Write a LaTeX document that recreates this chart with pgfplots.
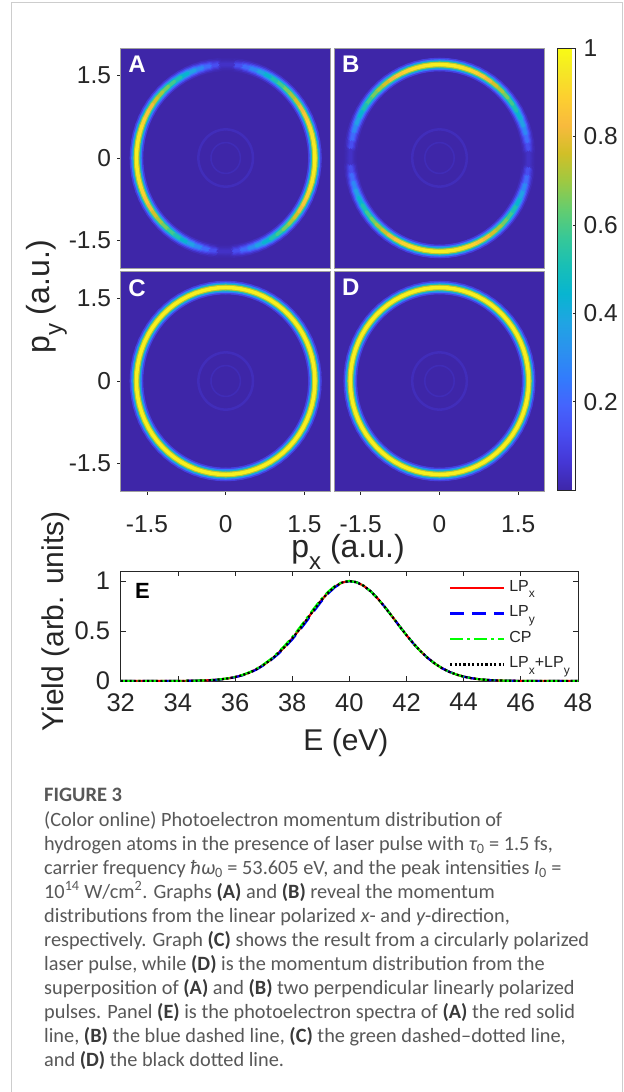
\documentclass[border=0pt]{standalone}
\usepackage{pgfplots}
\pgfplotsset{compat=1.18}
\usepackage{pgfplotstable}
\usepackage{fontspec}
\setmainfont{Liberation Sans}
\newfontfamily\capfont{Carlito}

\definecolor{pbg}{rgb}{0.2422,0.1504,0.6603}
\definecolor{tickgray}{rgb}{0.15,0.15,0.15}
\definecolor{capgray}{RGB}{88,88,88}
\definecolor{capdark}{RGB}{58,58,58}
\definecolor{bordergray}{RGB}{205,205,205}
\definecolor{framegray}{RGB}{160,160,160}

\newcommand{\sub}[1]{\raisebox{-0.4em}{\scalebox{0.75}{#1}}}

\pgfplotsset{
  colormap={parula}{
    rgb(0cm)=(0.2422,0.1504,0.6603)
    rgb(4cm)=(0.2706,0.2147,0.8364)
    rgb(8cm)=(0.2813,0.3006,0.9414)
    rgb(12cm)=(0.2699,0.3892,0.9906)
    rgb(16cm)=(0.1963,0.4847,0.9892)
    rgb(20cm)=(0.1687,0.5703,0.9359)
    rgb(24cm)=(0.1248,0.6459,0.8883)
    rgb(28cm)=(0.0297,0.7082,0.8163)
    rgb(32cm)=(0.0964,0.7500,0.7120)
    rgb(36cm)=(0.2161,0.7843,0.5923)
    rgb(40cm)=(0.3909,0.8029,0.4354)
    rgb(44cm)=(0.6174,0.7876,0.2612)
    rgb(48cm)=(0.8203,0.7498,0.1535)
    rgb(52cm)=(0.9728,0.7298,0.2394)
    rgb(56cm)=(0.9892,0.8136,0.1885)
    rgb(60cm)=(0.9597,0.9135,0.1423)
    rgb(63cm)=(0.9769,0.9839,0.0805)
  },
}

% ring: angle (deg), radius of main ring (a.u.), radii of faint inner rings,
% relative angular intensity for LP_x (A), LP_y (B), CP and LP_x+LP_y (C, D)
\pgfplotstableread{
a   r    ri   rj   IA    IB    IC
0   1.70 0.52 0.28 1.000 0.000 1
5   1.70 0.52 0.28 0.996 0.087 1
10  1.70 0.52 0.28 0.985 0.174 1
15  1.70 0.52 0.28 0.966 0.259 1
20  1.70 0.52 0.28 0.940 0.342 1
25  1.70 0.52 0.28 0.906 0.423 1
30  1.70 0.52 0.28 0.866 0.500 1
35  1.70 0.52 0.28 0.819 0.574 1
40  1.70 0.52 0.28 0.766 0.643 1
45  1.70 0.52 0.28 0.707 0.707 1
50  1.70 0.52 0.28 0.643 0.766 1
55  1.70 0.52 0.28 0.574 0.819 1
60  1.70 0.52 0.28 0.500 0.866 1
65  1.70 0.52 0.28 0.423 0.906 1
70  1.70 0.52 0.28 0.342 0.940 1
75  1.70 0.52 0.28 0.259 0.966 1
80  1.70 0.52 0.28 0.174 0.985 1
85  1.70 0.52 0.28 0.087 0.996 1
90  1.70 0.52 0.28 0.000 1.000 1
95  1.70 0.52 0.28 0.087 0.996 1
100 1.70 0.52 0.28 0.174 0.985 1
105 1.70 0.52 0.28 0.259 0.966 1
110 1.70 0.52 0.28 0.342 0.940 1
115 1.70 0.52 0.28 0.423 0.906 1
120 1.70 0.52 0.28 0.500 0.866 1
125 1.70 0.52 0.28 0.574 0.819 1
130 1.70 0.52 0.28 0.643 0.766 1
135 1.70 0.52 0.28 0.707 0.707 1
140 1.70 0.52 0.28 0.766 0.643 1
145 1.70 0.52 0.28 0.819 0.574 1
150 1.70 0.52 0.28 0.866 0.500 1
155 1.70 0.52 0.28 0.906 0.423 1
160 1.70 0.52 0.28 0.940 0.342 1
165 1.70 0.52 0.28 0.966 0.259 1
170 1.70 0.52 0.28 0.985 0.174 1
175 1.70 0.52 0.28 0.996 0.087 1
180 1.70 0.52 0.28 1.000 0.000 1
185 1.70 0.52 0.28 0.996 0.087 1
190 1.70 0.52 0.28 0.985 0.174 1
195 1.70 0.52 0.28 0.966 0.259 1
200 1.70 0.52 0.28 0.940 0.342 1
205 1.70 0.52 0.28 0.906 0.423 1
210 1.70 0.52 0.28 0.866 0.500 1
215 1.70 0.52 0.28 0.819 0.574 1
220 1.70 0.52 0.28 0.766 0.643 1
225 1.70 0.52 0.28 0.707 0.707 1
230 1.70 0.52 0.28 0.643 0.766 1
235 1.70 0.52 0.28 0.574 0.819 1
240 1.70 0.52 0.28 0.500 0.866 1
245 1.70 0.52 0.28 0.423 0.906 1
250 1.70 0.52 0.28 0.342 0.940 1
255 1.70 0.52 0.28 0.259 0.966 1
260 1.70 0.52 0.28 0.174 0.985 1
265 1.70 0.52 0.28 0.087 0.996 1
270 1.70 0.52 0.28 0.000 1.000 1
275 1.70 0.52 0.28 0.087 0.996 1
280 1.70 0.52 0.28 0.174 0.985 1
285 1.70 0.52 0.28 0.259 0.966 1
290 1.70 0.52 0.28 0.342 0.940 1
295 1.70 0.52 0.28 0.423 0.906 1
300 1.70 0.52 0.28 0.500 0.866 1
305 1.70 0.52 0.28 0.574 0.819 1
310 1.70 0.52 0.28 0.643 0.766 1
315 1.70 0.52 0.28 0.707 0.707 1
320 1.70 0.52 0.28 0.766 0.643 1
325 1.70 0.52 0.28 0.819 0.574 1
330 1.70 0.52 0.28 0.866 0.500 1
335 1.70 0.52 0.28 0.906 0.423 1
340 1.70 0.52 0.28 0.940 0.342 1
345 1.70 0.52 0.28 0.966 0.259 1
350 1.70 0.52 0.28 0.985 0.174 1
355 1.70 0.52 0.28 0.996 0.087 1
360 1.70 0.52 0.28 1.000 0.000 1
}\ringdata

% photoelectron spectra
\pgfplotstableread{
E     LPx    LPy    CP     LPxy
32    0      0      0      0
33    0      0      0      0
34    0.0007 0.0007 0.0008 0.0007
34.5  0.0022 0.0021 0.0024 0.0022
35    0.0063 0.0060 0.0068 0.0063
35.25 0.0103 0.0099 0.0110 0.0103
35.5  0.0165 0.0158 0.0176 0.0165
35.75 0.0256 0.0246 0.0272 0.0256
36    0.0389 0.0380 0.0405 0.0389
36.25 0.0577 0.0560 0.0600 0.0577
36.5  0.0833 0.0810 0.0865 0.0833
36.75 0.1174 0.1145 0.1215 0.1174
37    0.1611 0.1575 0.1665 0.1611
37.25 0.2120 0.2070 0.2190 0.2120
37.5  0.2740 0.2670 0.2830 0.2740
37.75 0.3460 0.3380 0.3570 0.3460
38    0.4250 0.4150 0.4380 0.4250
38.25 0.5150 0.5020 0.5290 0.5150
38.5  0.6100 0.5960 0.6240 0.6100
38.75 0.7080 0.6940 0.7210 0.7080
39    0.8010 0.7880 0.8130 0.8010
39.25 0.8820 0.8720 0.8910 0.8820
39.5  0.9450 0.9390 0.9510 0.9450
39.75 0.9850 0.9820 0.9880 0.9850
40    1.0000 0.9980 1.0000 1.0000
40.25 0.9879 0.9879 0.9879 0.9879
40.5  0.9523 0.9523 0.9523 0.9523
40.75 0.8959 0.8959 0.8959 0.8959
41    0.8226 0.8226 0.8226 0.8226
41.25 0.7370 0.7370 0.7370 0.7370
41.5  0.6444 0.6444 0.6444 0.6444
41.75 0.5499 0.5499 0.5499 0.5499
42    0.4578 0.4578 0.4578 0.4578
42.25 0.3720 0.3720 0.3720 0.3720
42.5  0.2950 0.2950 0.2950 0.2950
42.75 0.2283 0.2283 0.2283 0.2283
43    0.1724 0.1724 0.1724 0.1724
43.25 0.1271 0.1271 0.1271 0.1271
43.5  0.0914 0.0914 0.0914 0.0914
43.75 0.0641 0.0641 0.0641 0.0641
44    0.0439 0.0439 0.0439 0.0439
44.25 0.0294 0.0294 0.0294 0.0294
44.5  0.0192 0.0192 0.0192 0.0192
44.75 0.0122 0.0122 0.0122 0.0122
45    0.0076 0.0076 0.0076 0.0076
45.5  0.0027 0.0027 0.0027 0.0027
46    0.0009 0.0009 0.0009 0.0009
47    0      0      0      0
48    0      0      0      0
}\specdata

\newcommand{\ringlayers}[1]{%
  \addplot[mesh, data cs=polar, line width=2.5bp, line cap=round, point meta={0.025}] table[x=a, y=ri] {\ringdata};
  \addplot[mesh, data cs=polar, line width=1.5bp, line cap=round, point meta={0.02}] table[x=a, y=rj] {\ringdata};
  \addplot[mesh, data cs=polar, line width=13.5bp, line cap=round, point meta={0.09*\thisrow{#1}}] table[x=a, y=r] {\ringdata};
  \addplot[mesh, data cs=polar, line width=10.5bp, line cap=round, point meta={0.26*\thisrow{#1}}] table[x=a, y=r] {\ringdata};
  \addplot[mesh, data cs=polar, line width=7.8bp, line cap=round, point meta={0.50*\thisrow{#1}}] table[x=a, y=r] {\ringdata};
  \addplot[mesh, data cs=polar, line width=5.6bp, line cap=round, point meta={0.74*\thisrow{#1}}] table[x=a, y=r] {\ringdata};
  \addplot[mesh, data cs=polar, line width=3.4bp, line cap=round, point meta={0.97*\thisrow{#1}}] table[x=a, y=r] {\ringdata};
}

\tikzset{plabel/.style={anchor=north west, inner sep=0pt, text=white, font=\bfseries\fontsize{24bp}{24bp}\selectfont}}

\pgfplotsset{
  panel/.style={
    scale only axis, width=210bp, height=220bp, anchor=north west,
    xmin=-2, xmax=2, ymin=-2, ymax=2,
    axis background/.style={fill=pbg},
    colormap name=parula, point meta min=0, point meta max=1,
    axis line style={framegray, line width=0.5bp},
    tick align=outside, major tick length=3.5bp,
    tick style={tickgray, line width=0.6bp},
    xtick pos=left, ytick pos=left,
    xtick={-1.5,0,1.5}, ytick={-1.5,0,1.5},
    xticklabels={-1.5,0,1.5}, yticklabels={-1.5,0,1.5},
    ticklabel style={font=\fontsize{24.5bp}{24.5bp}\selectfont, text=tickgray, inner sep=0pt},
    xticklabel style={yshift=-20.5bp},
    yticklabel style={xshift=-6bp},
  },
}

\begin{document}
\begin{tikzpicture}
\path[use as bounding box] (0,0) rectangle (624bp,-1092bp);
\fill[white] (0,0) rectangle (624bp,-1092bp);
\draw[bordergray, line width=1bp] (11bp,-1092bp) -- (11bp,-2bp) -- (622bp,-2bp) -- (622bp,-1092bp);

% (A)
\begin{axis}[panel, at={(120.7bp,-48bp)}, xtick=\empty]
  \ringlayers{IA}
  \node[plabel] at (rel axis cs:0.035,0.963) {A};
\end{axis}
% (B) with colorbar
\begin{axis}[panel, at={(334.5bp,-48bp)}, xtick=\empty, ytick=\empty,
  colorbar,
  colorbar style={
    at={(parent axis.north east)}, anchor=north west, xshift=4.5bp,
    scale only axis, width=18bp, height=442bp,
    ytick={0.2,0.4,0.6,0.8,1}, yticklabels={0.2,0.4,0.6,0.8,1},
    yticklabel pos=right, ytick pos=right, tick align=inside, major tick length=3bp,
    tick style={tickgray, line width=0.6bp},
    axis line style={tickgray, line width=0.7bp},
    yticklabel style={font=\fontsize{24.5bp}{24.5bp}\selectfont, text=tickgray, inner sep=0pt, xshift=8bp},
  }]
  \ringlayers{IB}
  \node[plabel] at (rel axis cs:0.035,0.963) {B};
\end{axis}
% (C)
\begin{axis}[panel, at={(120.7bp,-271bp)}]
  \ringlayers{IC}
  \node[plabel] at (rel axis cs:0.035,0.963) {C};
\end{axis}
% (D)
\begin{axis}[panel, at={(334.5bp,-271bp)}, ytick=\empty]
  \ringlayers{IC}
  \node[plabel] at (rel axis cs:0.035,0.963) {D};
\end{axis}

\node[anchor=base, inner sep=0pt, text=tickgray, font=\fontsize{32bp}{32bp}\selectfont] at (348bp,-557bp) {p\sub{x} (a.u.)};
\node[anchor=base, rotate=90, inner sep=0pt, text=tickgray, font=\fontsize{32bp}{32bp}\selectfont] at (49bp,-297bp) {p\sub{y} (a.u.)};

% (E)
\begin{axis}[at={(120.7bp,-571bp)}, anchor=north west, scale only axis,
  width=457.3bp, height=110bp,
  xmin=32, xmax=48, ymin=0, ymax=1.1,
  xtick={32,34,36,38,40,42,44,46,48}, xticklabels={32,34,36,38,40,42,44,46,48},
  ytick={0,0.5,1}, yticklabels={0,0.5,1},
  tick align=inside, major tick length=5bp, xtick pos=both, ytick pos=both,
  xticklabel pos=lower, yticklabel pos=left,
  axis line style={tickgray, line width=0.7bp}, tick style={tickgray, line width=0.7bp},
  ticklabel style={font=\fontsize{25.5bp}{25.5bp}\selectfont, text=tickgray, inner sep=0pt},
  xticklabel style={yshift=-12bp},
  yticklabel style={xshift=-10.5bp},
  legend style={draw=none, fill=none, at={(0.9825,0.925)}, anchor=north east,
    font=\fontsize{16bp}{16bp}\selectfont, text=tickgray, row sep=8.5bp, inner sep=0pt,
    nodes={text height=12bp, text depth=5bp, inner sep=0pt},
    /tikz/every odd column/.append style={column sep=4bp}},
  legend cell align=left,
  legend image code/.code={\draw[#1, line width=2.4bp] (0bp,0bp) -- (54bp,0bp);},
]
  \addplot[red, line width=2.2bp] table[x=E, y=LPx] {\specdata};
  \addplot[blue, line width=2.2bp, dash pattern=on 14bp off 8bp] table[x=E, y=LPy] {\specdata};
  \addplot[green, line width=2.2bp, dash pattern=on 13bp off 4bp on 3bp off 4bp] table[x=E, y=CP] {\specdata};
  \addplot[black, line width=2.2bp, dash pattern=on 2.2bp off 2.2bp] table[x=E, y=LPxy] {\specdata};
  \legend{LP\sub{x}, LP\sub{y}, CP, LP\sub{x}+LP\sub{y}}
  \node[anchor=north west, inner sep=0pt, font=\bfseries\fontsize{22bp}{22bp}\selectfont] at (rel axis cs:0.031,0.891) {E};
\end{axis}

\node[anchor=base, inner sep=0pt, text=tickgray, font=\fontsize{30bp}{30bp}\selectfont] at (346bp,-750bp) {E (eV)};
\node[anchor=base, rotate=90, inner sep=0pt, text=tickgray, font=\fontsize{30bp}{30bp}\selectfont] at (63bp,-621.5bp) {Yield (arb. units)};

% caption
\node[anchor=base west, inner sep=0pt, text=capgray, font=\capfont\bfseries\fontsize{20.5bp}{24bp}\selectfont] at (44bp,-801bp) {FIGURE 3};
\node[anchor=north west, inner sep=0pt, align=left, text=capgray, font=\capfont\fontsize{20.3bp}{24bp}\selectfont] at (44bp,-811bp) {%
(Color online) Photoelectron momentum distribution of\\
hydrogen atoms in the presence of laser pulse with {\itshape τ}\textsubscript{0} = 1.5 fs,\\
carrier frequency {\itshape ħω}\textsubscript{0} = 53.605 eV, and the peak intensities {\itshape I}\textsubscript{0} =\\
10\textsuperscript{14} W/cm\textsuperscript{2}. Graphs \textcolor{capdark}{\bfseries (A)} and \textcolor{capdark}{\bfseries (B)} reveal the momentum\\
distributions from the linear polarized {\itshape x}- and {\itshape y}-direction,\\
respectively. Graph \textcolor{capdark}{\bfseries (C)} shows the result from a circularly polarized\\
laser pulse, while \textcolor{capdark}{\bfseries (D)} is the momentum distribution from the\\
superposition of \textcolor{capdark}{\bfseries (A)} and \textcolor{capdark}{\bfseries (B)} two perpendicular linearly polarized\\
pulses. Panel \textcolor{capdark}{\bfseries (E)} is the photoelectron spectra of \textcolor{capdark}{\bfseries (A)} the red solid\\
line, \textcolor{capdark}{\bfseries (B)} the blue dashed line, \textcolor{capdark}{\bfseries (C)} the green dashed–dotted line,\\
and \textcolor{capdark}{\bfseries (D)} the black dotted line.};
\end{tikzpicture}
\end{document}
